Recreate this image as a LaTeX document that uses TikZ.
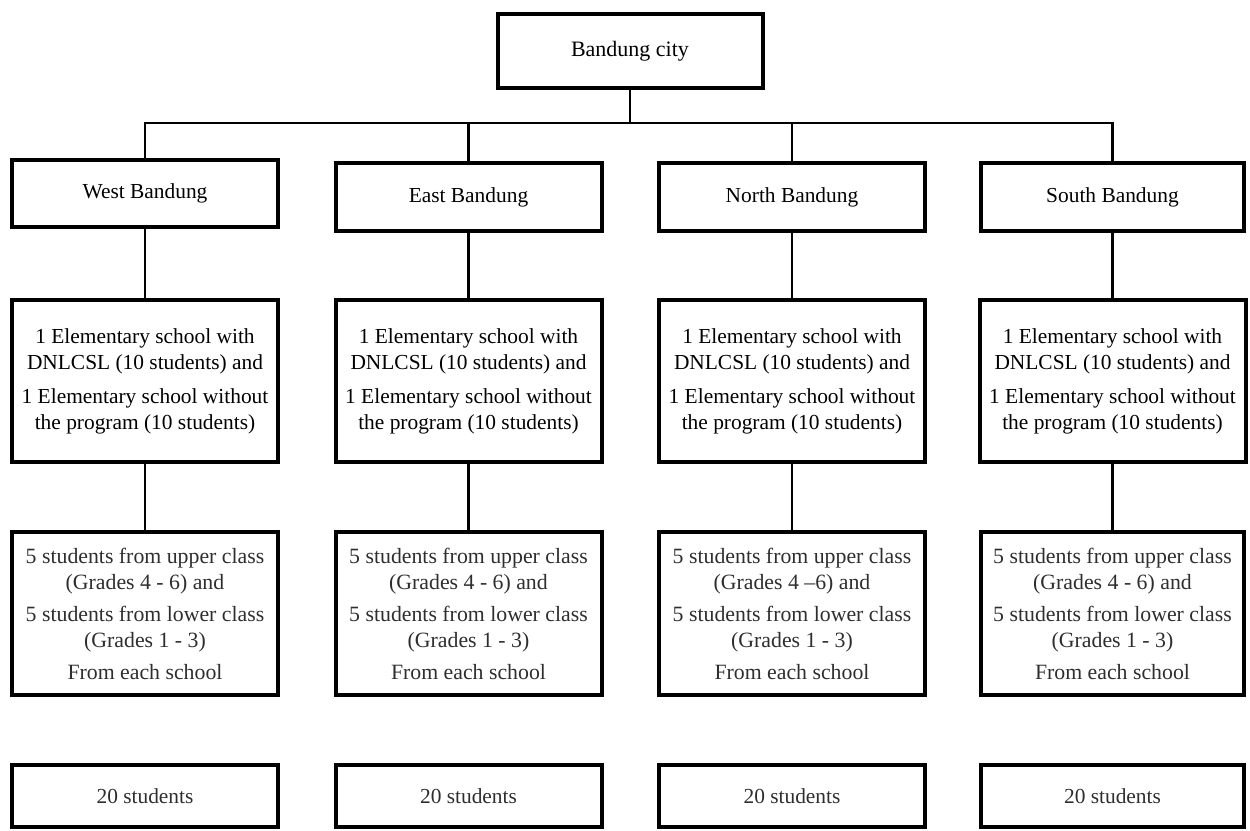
\documentclass[tikz,border=0pt]{standalone}
\usepackage{fontspec}
\setmainfont{Liberation Serif}
\begin{document}
\begin{tikzpicture}[x=0.5pt,y=-0.5pt,
  box/.style={draw=black, line width=2pt, rectangle, inner sep=0pt, align=center,
    minimum width=133pt, font=\fontsize{10.7}{13}\selectfont},
  toprow/.style={box, minimum height=34pt},
  midrow/.style={box, minimum height=81pt},
  lowrow/.style={box, minimum height=81.5pt, text=black!82, font=\fontsize{10.9}{13}\selectfont},
  endrow/.style={box, minimum height=31pt, text=black!82},
  conn/.style={draw=black, line width=1.2pt}]
\useasboundingbox (0,0) rectangle (1250,831);
% top
\node[box, minimum width=132.5pt, minimum height=37pt, font=\fontsize{11}{13}\selectfont] (top) at (630,51) {Bandung city};
\coordinate (bus) at (0,123);
% row 1
\node[toprow, minimum height=33.5pt] (w1) at (145,193.5) {West Bandung};
\node[toprow] (e1) at (468.5,197) {East Bandung};
\node[toprow] (n1) at (792,197) {North Bandung};
\node[toprow, minimum width=131.5pt] (s1) at (1112.5,197) {South Bandung};
% row 2
\foreach \n/\x in {w2/145, e2/468.5, n2/792, s2/1112.5}{
  \node[midrow] (\n) at (\x,381) {1 Elementary school with\\ DNLCSL (10 students) and\\[4pt] 1 Elementary school without\\ the program (10 students)};
}
% row 3
\node[lowrow] (w3) at (145,613.5) {5 students from upper class\\ (Grades 4 - 6) and\\[3pt] 5 students from lower class\\ (Grades 1 - 3)\\[3pt] From each school};
\node[lowrow] (e3) at (468.5,613.5) {5 students from upper class\\ (Grades 4 - 6) and\\[3pt] 5 students from lower class\\ (Grades 1 - 3)\\[3pt] From each school};
\node[lowrow] (n3) at (792,613.5) {5 students from upper class\\ (Grades 4 --6) and\\[3pt] 5 students from lower class\\ (Grades 1 - 3)\\[3pt] From each school};
\node[lowrow, minimum width=131.5pt] (s3) at (1112.5,613.5) {5 students from upper class\\ (Grades 4 - 6) and\\[3pt] 5 students from lower class\\ (Grades 1 - 3)\\[3pt] From each school};
% row 4
\node[endrow] (w4) at (145,796) {20 students};
\node[endrow] (e4) at (468.5,796) {20 students};
\node[endrow] (n4) at (792,796) {20 students};
\node[endrow, minimum width=131.5pt] (s4) at (1112.5,796) {20 students};
% connectors
\draw[conn] (top.south) -- (top.south |- bus);
\draw[conn] (w1.north) |- (s1.north |- bus) -- (s1.north);
\draw[conn] (e1.north) -- (e1.north |- bus);
\draw[conn] (n1.north) -- (n1.north |- bus);
\foreach \c in {w,e,n,s}{
  \draw[conn] (\c1.south) -- (\c2.north);
  \draw[conn] (\c2.south) -- (\c3.north);
}
\end{tikzpicture}
\end{document}
